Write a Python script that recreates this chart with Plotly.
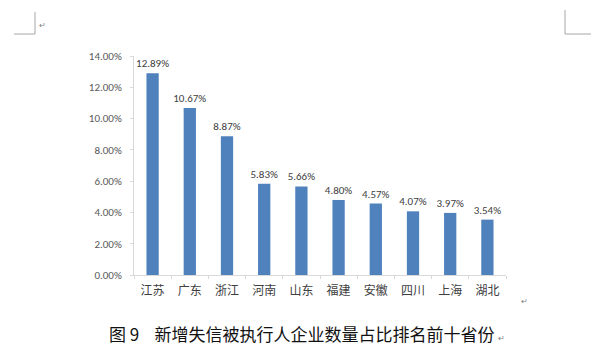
import plotly.graph_objects as go

provinces = ["江苏", "广东", "浙江", "河南", "山东", "福建", "安徽", "四川", "上海", "湖北"]
shares = [12.89, 10.67, 8.87, 5.83, 5.66, 4.80, 4.57, 4.07, 3.97, 3.54]
y_ticks = [0, 2, 4, 6, 8, 10, 12, 14]
caption = "图 9\u00a0\u00a0\u00a0\u00a0新增失信被执行人企业数量占比排名前十省份"

num_font = "Calibri, Carlito, 'Liberation Sans', 'Noto Sans CJK SC'"
cjk_font = "'Noto Sans CJK SC', 'Microsoft YaHei', sans-serif"

# page body has an 8px default margin, so the figure is 8px smaller and offset
OFF = 8
W, H = 600 - OFF, 363 - OFF
L, R, T, B = 134, 506, 56, 275  # plot area in page pixels

fig = go.Figure(go.Bar(
    x=provinces, y=shares,
    marker=dict(color="#4F81BD", line=dict(width=0)),
    width=0.33,
    text=[f"{v:.2f}%" for v in shares],
    textposition="outside",
    constraintext="none",
    textfont=dict(family=num_font, size=11, color="#404040"),
    cliponaxis=False,
))

fig.update_layout(
    width=W, height=H,
    margin=dict(l=L - OFF, r=600 - R, t=T - OFF, b=363 - B, autoexpand=False),
    paper_bgcolor="white", plot_bgcolor="white",
    showlegend=False,
    xaxis=dict(
        showgrid=False, showline=True, linecolor="#d9d9d9", linewidth=1,
        ticks="outside", tickson="boundaries", ticklen=3, tickcolor="#d9d9d9",
        ticklabelstandoff=5,
        tickfont=dict(family=cjk_font, size=12, color="#404040"),
    ),
    yaxis=dict(
        range=[0, 14], tickvals=y_ticks,
        ticktext=[f"{t:.2f}%" for t in y_ticks],
        showgrid=False, zeroline=False, showline=True, linecolor="#d9d9d9", linewidth=1,
        ticks="outside", ticklen=3, tickcolor="#d9d9d9",
        ticklabelstandoff=6,
        tickfont=dict(family=num_font, size=11, color="#595959"),
    ),
    font=dict(family=cjk_font),
)

grey = "#a6a6a6"

def px(x):
    return (x - L) / (R - L)

def py(y):
    return (B - y) / (B - T)

# Word page-corner marks
for (x0, y0, x1, y1) in [(35, 12, 35, 34), (14, 34, 35, 34), (565, 10, 565, 34), (565, 34, 591, 34)]:
    fig.add_shape(type="line", xref="paper", yref="paper",
                  x0=px(x0), y0=py(y0), x1=px(x1), y1=py(y1),
                  line=dict(color=grey, width=1))

fig.add_annotation(xref="paper", yref="paper", x=px(37), y=py(25), text="↵",
                   showarrow=False, xanchor="left", yanchor="middle",
                   font=dict(size=8, color="#808080"))
fig.add_annotation(xref="paper", yref="paper", x=px(519), y=py(300), text="↵",
                   showarrow=False, xanchor="left", yanchor="middle",
                   font=dict(size=8, color="#808080"))
fig.add_annotation(xref="paper", yref="paper", x=px(107), y=py(333), text=caption,
                   showarrow=False, xanchor="left", yanchor="middle",
                   font=dict(family=cjk_font, size=17, color="#111111"))
fig.add_annotation(xref="paper", yref="paper", x=px(496), y=py(337), text="↵",
                   showarrow=False, xanchor="left", yanchor="middle",
                   font=dict(size=8, color="#808080"))

fig.write_html("out.html")
